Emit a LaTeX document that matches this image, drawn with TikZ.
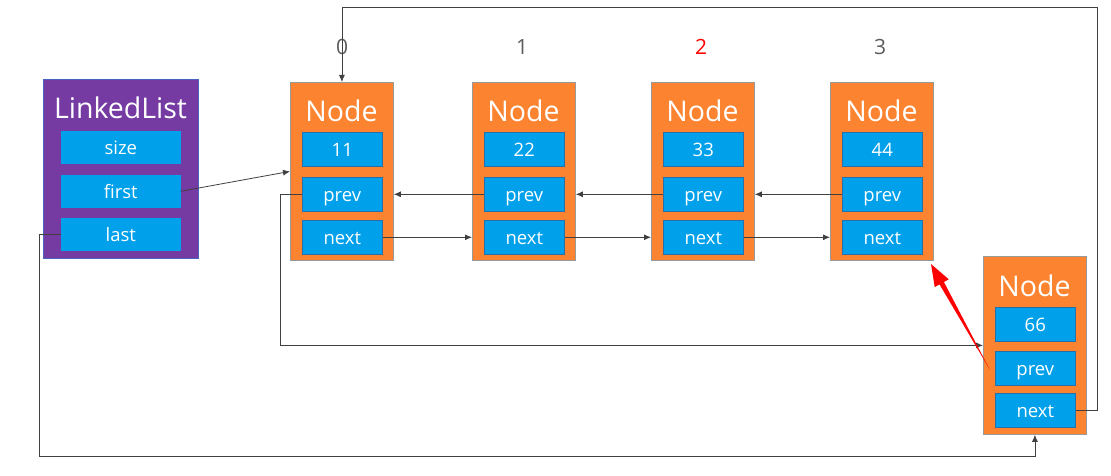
\documentclass[tikz,border=0pt]{standalone}
\usepackage{fontspec}
\setmainfont{Open Sans}
\usetikzlibrary{arrows.meta}
\definecolor{orng}{RGB}{252,132,48}
\definecolor{blu}{RGB}{0,160,234}
\definecolor{fldb}{RGB}{40,110,170}
\definecolor{purp}{RGB}{118,58,163}
\definecolor{idxg}{RGB}{90,90,90}
\begin{document}
\begin{tikzpicture}[x=1pt,y=-1pt,
  box/.style={draw=gray!80, fill=orng, line width=0.8pt, minimum width=103pt, minimum height=178pt, anchor=north west, inner sep=0},
  llbox/.style={draw=blu!40!purp, fill=purp, line width=0.8pt, minimum width=155pt, minimum height=179pt, anchor=north west, inner sep=0},
  fld/.style={draw=fldb, fill=blu, line width=0.6pt, minimum width=80pt, minimum height=34pt, anchor=north west, inner sep=0, text=white, text height=15.5pt, text depth=1pt, font=\fontsize{18.5}{21}\selectfont},
  llfld/.style={fld, draw=blu, minimum width=119pt, minimum height=32pt},
  ttl/.style={text=white, inner sep=0, font=\fontsize{28.5}{32}\selectfont},
  idx/.style={text=idxg, inner sep=0, font=\fontsize{21}{24}\selectfont},
  conn/.style={draw=black!75, line width=0.8pt, -{Latex[length=7pt,width=6pt]}},
  wire/.style={draw=black!75, line width=0.8pt}]
\useasboundingbox (0,0) rectangle (1111,476);
% LinkedList
\node[llbox] (ll) at (43,79) {};
\node[ttl] (llt) at (120.5,108) {LinkedList};
\node[llfld] (lls) at (61,131) {size};
\node[llfld] (llf) at (61,175) {first};
\node[llfld] (llL) at (61,218) {last};
% nodes 0..3
\foreach \i/\x/\v in {0/290/11,1/472/22,2/651/33,3/830/44} {
  \node[box] (n\i) at (\x,82) {};
  \node[ttl] (n\i t) at (\x+51.5,111) {Node};
  \node[fld] (n\i v) at (\x+12,132) {\v};
  \node[fld] (n\i p) at (\x+12,177) {prev};
  \node[fld] (n\i n) at (\x+12,220) {next};
}
\node[idx] (i0) at (342,47) {0};
\node[idx] (i1) at (522,47) {1};
\node[idx, text=red] (i2) at (701,47) {2};
\node[idx] (i3) at (880,47) {3};
% node 66
\node[box] (n4) at (983,256) {};
\node[ttl] (n4t) at (1034.5,286) {Node};
\node[fld] (n4v) at (995,307) {66};
\node[fld] (n4p) at (995,351) {prev};
\node[fld] (n4n) at (995,393) {next};
% connectors
\draw[conn] (llf.east) -- (n0.west);
\draw[conn] (n1p.west) -- (n1p.west -| n0.east);
\draw[conn] (n2p.west) -- (n2p.west -| n1.east);
\draw[conn] (n3p.west) -- (n3p.west -| n2.east);
\draw[conn] (n0n.east) -- (n0n.east -| n1.west);
\draw[conn] (n1n.east) -- (n1n.east -| n2.west);
\draw[conn] (n2n.east) -- (n2n.east -| n3.west);
\coordinate (topy) at (0,7);
\coordinate (boty) at (0,456);
\draw[conn] (n0p.west) -- ++(-22,0) |- (n4.west);
\draw[conn] (n4n.east) -- ++(22,0) |- (topy -| n0.north) -- (n0.north);
\draw[conn] (llL.west) -- ++(-22,0) |- (boty -| n4.south) -- (n4.south);
% red pointer
\fill[red] (990,370) -- (943.9,282.0) -- (948.7,279.3) -- (931,264) -- (934.7,287.1) -- (939.5,284.4) -- cycle;
\end{tikzpicture}
\end{document}
